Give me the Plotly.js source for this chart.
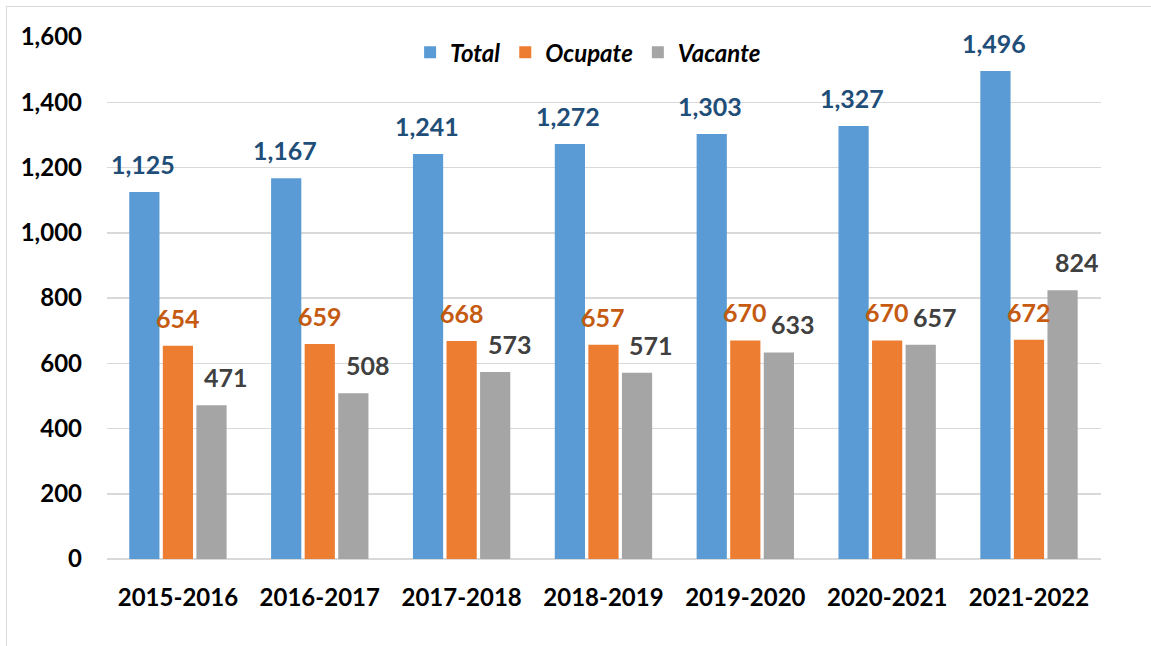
<!DOCTYPE html>
<html>
<head>
<meta charset="utf-8">
<script src="https://cdn.plot.ly/plotly-3.0.1.min.js"></script>
<style>
  html, body { margin: 0; padding: 0; background: #fff; overflow: hidden; }
  #chart { width: 1151px; height: 646px; }
  #frame { position: absolute; left: 6px; top: 6px; width: 1200px; height: 700px;
           border-left: 1.5px solid #d9d9d9; border-top: 1.5px solid #d9d9d9;
           pointer-events: none; z-index: 10; }
</style>
</head>
<body>
<div id="frame"></div>
<div id="chart"></div>
<script>
const categories = ['2015-2016', '2016-2017', '2017-2018', '2018-2019', '2019-2020', '2020-2021', '2021-2022'];
const total = [1125, 1167, 1241, 1272, 1303, 1327, 1496];
const ocupate = [654, 659, 668, 657, 670, 670, 672];
const vacante = [471, 508, 573, 571, 633, 657, 824];
const seriesNames = ['Total', 'Ocupate', 'Vacante'];
const yTicks = [0, 200, 400, 600, 800, 1000, 1200, 1400, 1600];

const barColors = ['#5b9bd5', '#ed7d31', '#a5a5a5'];
const labelColors = ['#1f4e79', '#c55a11', '#404040'];
const FONT = 'Lato, "Open Sans", sans-serif';
const W = 'bold';

const seriesData = [total, ocupate, vacante];
const traces = seriesData.map((vals, k) => ({
  type: 'bar',
  name: seriesNames[k],
  x: categories,
  y: vals,
  marker: { color: barColors[k], line: { width: 0 } },
  hoverinfo: 'skip'
}));

const slot = 35;            // px between adjacent bar centres within a group
const extraShift = [0, 0, 13];
const annotations = [];
seriesData.forEach((vals, k) => {
  vals.forEach((v, i) => {
    annotations.push({
      x: categories[i], y: v, xref: 'x', yref: 'y',
      text: v.toLocaleString('en-US'),
      showarrow: false,
      xanchor: 'center', yanchor: 'middle',
      xshift: (k - 1) * slot + extraShift[k],
      yshift: 28,
      font: { family: FONT, size: 25, color: labelColors[k], weight: W }
    });
  });
});

const layout = {
  width: 1151, height: 646,
  margin: { l: 107, r: 50, t: 37, b: 87 },
  paper_bgcolor: '#ffffff', plot_bgcolor: '#ffffff',
  barmode: 'group',
  bargap: 0.29,
  bargroupgap: 0.1,
  font: { family: FONT, color: '#000000' },
  xaxis: {
    type: 'category',
    tickfont: { family: FONT, size: 24, color: '#000000', weight: W },
    showgrid: false, showline: false, zeroline: false,
    ticks: '', ticklabelstandoff: 22
  },
  yaxis: {
    range: [0, 1600],
    tickvals: yTicks,
    ticktext: yTicks.map(v => v.toLocaleString('en-US')),
    tickfont: { family: FONT, size: 24, color: '#000000', weight: W },
    showgrid: true, gridcolor: '#d9d9d9', gridwidth: 1.5,
    zeroline: true, zerolinecolor: '#d9d9d9', zerolinewidth: 1.5,
    showline: false, ticks: '', ticklabelstandoff: 24
  },
  legend: {
    orientation: 'h',
    x: 0.484, xanchor: 'center',
    y: 1.013, yanchor: 'top',
    bgcolor: 'rgba(0,0,0,0)',
    font: { family: FONT, size: 24, color: '#000000', weight: W, style: 'italic' },
    itemwidth: 30, tracegroupgap: 0
  },
  annotations: annotations,
  showlegend: true
};

Plotly.newPlot('chart', traces, layout, { displayModeBar: false, staticPlot: true });
</script>
</body>
</html>
